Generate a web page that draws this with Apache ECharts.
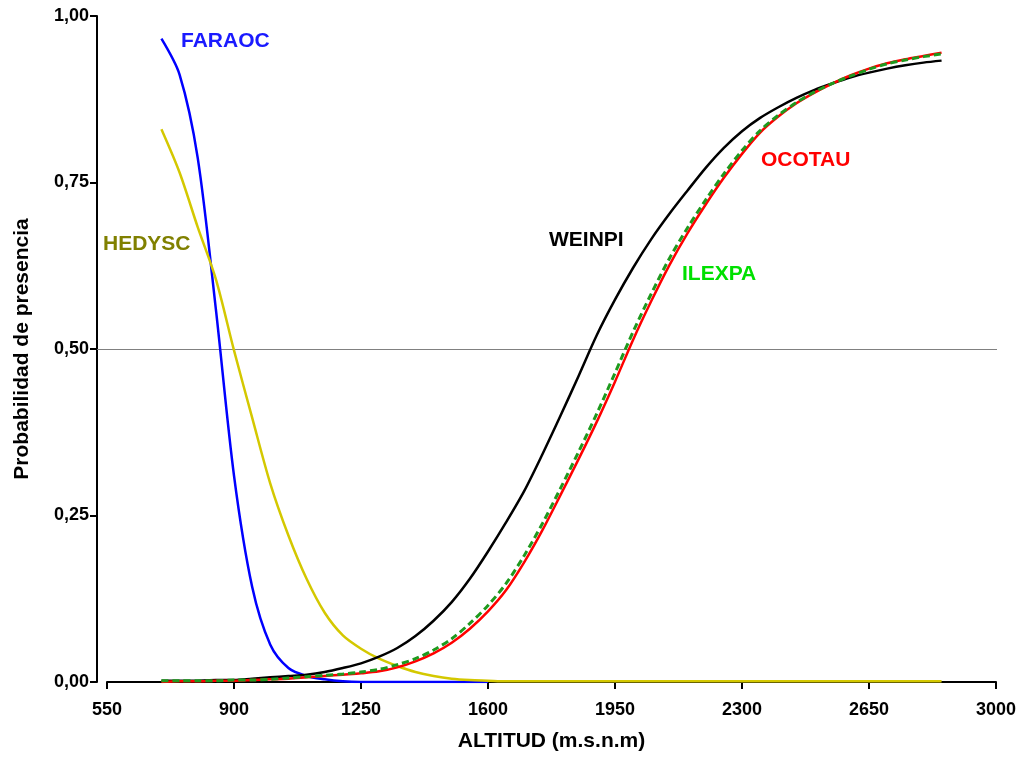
<!DOCTYPE html>
<html>
<head>
<meta charset="utf-8">
<script src="https://cdn.jsdelivr.net/npm/echarts@6/dist/echarts.min.js"></script>
<style>
html,body{margin:0;padding:0;background:#fff;}
#chart{width:1021px;height:757px;}
</style>
</head>
<body>
<div id="chart"></div>
<script>
// Altitude grid (m.s.n.m)
var altitud = [700,750,800,850,900,950,1000,1050,1100,1150,1200,1250,1300,1350,1400,1450,1500,1550,1600,
  1650,1700,1750,1800,1850,1900,1950,2000,2050,2100,2150,2200,2250,2300,2350,2400,2450,2500,2550,2600,2650,2700,2750,2800,2850];

// Probabilities
var faraoc = [0.966,0.912,0.787,0.56,0.31,0.143,0.056,0.021,0.009,0.004,0.001,0,0,0,0,0,0,0,0];
var hedysc = [0.83,0.765,0.683,0.605,0.498,0.397,0.298,0.22,0.155,0.104,0.07,0.05,0.035,0.024,0.015,0.009,0.005,0.003,0.002,
  0.001,0.001,0.001,0.001,0.001,0.001,0.001,0.001,0.001,0.001,0.001,0.001,0.001,0.001,0.001,0.001,0.001,0.001,0.001,0.001,0.001,0.001,0.001,0.001,0.001];
var weinpi = [0.002,0.002,0.002,0.003,0.003,0.005,0.007,0.009,0.011,0.015,0.021,0.028,0.038,0.051,0.069,0.092,0.12,0.155,0.196,
  0.24,0.287,0.342,0.40,0.46,0.521,0.574,0.622,0.665,0.703,0.738,0.772,0.802,0.827,0.847,0.863,0.877,0.889,0.899,0.908,0.915,0.921,0.926,0.93,0.933];
var ocotau = [0.0,0.001,0.001,0.002,0.002,0.003,0.004,0.005,0.007,0.009,0.011,0.013,0.016,0.022,0.031,0.043,0.059,0.08,0.106,
  0.138,0.18,0.228,0.281,0.335,0.391,0.451,0.514,0.572,0.626,0.674,0.717,0.757,0.793,0.825,0.849,0.869,0.885,0.899,0.911,0.921,0.929,0.935,0.94,0.945];
var ilexpa = [0.002,0.002,0.002,0.002,0.003,0.003,0.004,0.006,0.008,0.01,0.012,0.015,0.019,0.026,0.035,0.048,0.065,0.088,0.115,
  0.148,0.19,0.238,0.291,0.346,0.403,0.464,0.526,0.583,0.636,0.682,0.724,0.763,0.798,0.828,0.851,0.87,0.886,0.899,0.91,0.92,0.928,0.934,0.939,0.943];

var refLevel = 0.5;
var xTicks = [550, 3000, 350];   // min, max, interval
var yTicks = [0, 1, 0.25];

function pairs(xs, ys){ var out=[]; for(var i=0;i<ys.length;i++){ out.push([xs[i], ys[i]]); } return out; }

var FONT = '"Liberation Sans", Arial, sans-serif';
var chart = echarts.init(document.getElementById('chart'), null, {renderer:'canvas'});

function lineSeries(name, data, color, extra){
  var s = {
    name: name, type: 'line', data: data, showSymbol: false, symbol: 'none',
    smooth: 0.3, silent: true, animation: false,
    lineStyle: {color: color, width: 2.5}, xAxisIndex: 0, yAxisIndex: 0
  };
  if (extra) { for (var k in extra) s.lineStyle[k] = extra[k]; }
  return s;
}

var option = {
  backgroundColor: '#ffffff',
  animation: false,
  grid: [
    {left: 107, right: 25, top: 16, bottom: 74},
    {left: 97, right: 24, top: 16, bottom: 74}
  ],
  xAxis: [{
    type: 'value', gridIndex: 0, min: xTicks[0], max: xTicks[1], interval: xTicks[2], offset: 9,
    name: 'ALTITUD (m.s.n.m)', nameLocation: 'middle', nameGap: 40,
    nameTextStyle: {fontFamily: FONT, fontWeight: 'bold', fontSize: 21, color: '#000'},
    axisLine: {show: true, lineStyle: {color: '#000', width: 2}},
    axisTick: {show: true, length: 7, lineStyle: {color: '#000', width: 2}},
    axisLabel: {fontFamily: FONT, fontWeight: 'bold', fontSize: 18, color: '#000', margin: 10,
      formatter: function(v){ return String(v); }},
    splitLine: {show: false}
  },{
    type: 'value', gridIndex: 1, min: 0, max: 1, show: false
  }],
  yAxis: [{
    type: 'value', gridIndex: 0, min: yTicks[0], max: yTicks[1], interval: yTicks[2], offset: 10,
    name: 'Probabilidad de presencia', nameLocation: 'middle', nameGap: 64, nameRotate: 90,
    nameTextStyle: {fontFamily: FONT, fontWeight: 'bold', fontSize: 21, color: '#000'},
    axisLine: {show: true, lineStyle: {color: '#000', width: 2}},
    axisTick: {show: true, length: 7, lineStyle: {color: '#000', width: 2}},
    axisLabel: {fontFamily: FONT, fontWeight: 'bold', fontSize: 18, color: '#000', margin: 8,
      formatter: function(v){ return v.toFixed(2).replace('.', ','); }},
    splitLine: {show: false}
  },{
    type: 'value', gridIndex: 1, min: 0, max: 1, show: false
  }],
  series: [
    {type: 'line', xAxisIndex: 1, yAxisIndex: 1, data: [[0, refLevel],[1, refLevel]], showSymbol: false, silent: true,
     lineStyle: {color: '#808080', width: 1}},
    lineSeries('FARAOC', pairs(altitud, faraoc), '#0000ff'),
    lineSeries('HEDYSC', pairs(altitud, hedysc), '#d4c800'),
    lineSeries('WEINPI', pairs(altitud, weinpi), '#000000'),
    lineSeries('OCOTAU', pairs(altitud, ocotau), '#ff0000'),
    lineSeries('ILEXPA', pairs(altitud, ilexpa), '#1e9a1e', {type: [7, 4], width: 3})
  ],
  graphic: [
    {type: 'text', left: 181, top: 31, style: {text: 'FARAOC', fill: '#1a1aff', font: 'bold 21px ' + FONT}},
    {type: 'text', left: 103, top: 234, style: {text: 'HEDYSC', fill: '#808000', font: 'bold 21px ' + FONT}},
    {type: 'text', left: 549, top: 230, style: {text: 'WEINPI', fill: '#000000', font: 'bold 21px ' + FONT}},
    {type: 'text', left: 682, top: 264, style: {text: 'ILEXPA', fill: '#00e000', font: 'bold 21px ' + FONT}},
    {type: 'text', left: 761, top: 150, style: {text: 'OCOTAU', fill: '#ff0000', font: 'bold 21px ' + FONT}}
  ]
};
chart.setOption(option);
</script>
</body>
</html>
